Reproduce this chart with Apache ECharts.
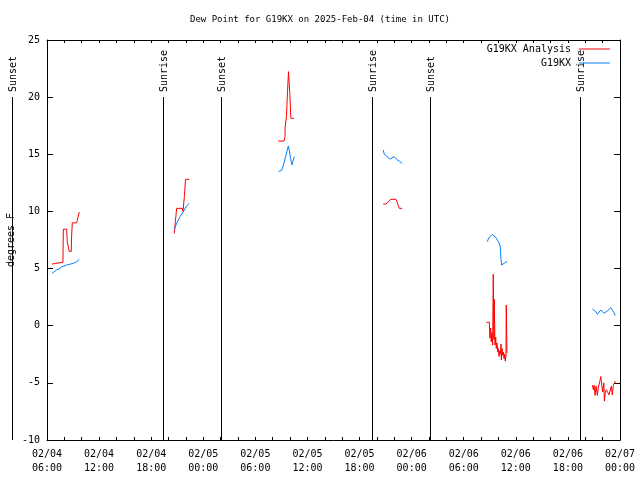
<!DOCTYPE html>
<html><head><meta charset="utf-8">
<script src="https://cdn.jsdelivr.net/npm/echarts@6/dist/echarts.min.js"></script>
<style>html,body{margin:0;padding:0;background:#fff}#c{width:640px;height:480px}</style>
</head><body><div id="c"></div>
<script>
// Segments are separated by null entries
const redTimes = [
 '02/04 06:35','02/04 07:00','02/04 07:50','02/04 07:53','02/04 08:16','02/04 08:20','02/04 08:30','02/04 08:34','02/04 08:48','02/04 08:49','02/04 08:55','02/04 09:25','02/04 09:29','02/04 09:36','02/04 09:43',
 null,
 '02/04 20:40','02/04 20:47','02/04 20:54','02/04 20:56','02/04 21:35','02/04 21:40','02/04 21:49','02/04 21:50','02/04 21:56','02/04 21:57','02/04 22:23',
 null,
 '02/05 08:38','02/05 09:18','02/05 09:25','02/05 09:26','02/05 09:34','02/05 09:35','02/05 09:41','02/05 09:42','02/05 09:48','02/05 09:49','02/05 09:57','02/05 09:58','02/05 10:04','02/05 10:05','02/05 10:27',
 null,
 '02/05 20:44','02/05 21:03','02/05 21:19','02/05 21:35','02/05 22:12','02/05 22:20','02/05 22:26','02/05 22:35','02/05 22:55',
 null,
 '02/06 08:36','02/06 08:48','02/06 08:57','02/06 09:01','02/06 09:06','02/06 09:10','02/06 09:15','02/06 09:20','02/06 09:24','02/06 09:29','02/06 09:31','02/06 09:36','02/06 09:41','02/06 09:45','02/06 09:50','02/06 09:55','02/06 09:59','02/06 10:04','02/06 10:09','02/06 10:13','02/06 10:18','02/06 10:20','02/06 10:25','02/06 10:29','02/06 10:34','02/06 10:39','02/06 10:43','02/06 10:47','02/06 10:52','02/06 10:54','02/06 10:59',
 null,
 '02/06 20:49','02/06 20:56','02/06 21:01','02/06 21:08','02/06 21:15','02/06 21:24','02/06 21:30','02/06 21:40','02/06 21:47','02/06 21:54','02/06 22:01','02/06 22:08','02/06 22:12','02/06 22:19','02/06 22:26','02/06 22:35','02/06 22:44','02/06 22:53','02/06 23:00','02/06 23:07','02/06 23:14','02/06 23:21','02/06 23:28'
];
const redValues = [
 5.4,5.45,5.55,8.45,8.45,7.35,7.35,6.5,6.5,7.6,9.0,9.0,9.2,9.3,9.95,
 null,
 8.08,9.1,9.1,10.27,10.27,10.0,10.0,11.4,11.4,12.8,12.8,
 null,
 16.16,16.16,16.54,17.41,17.41,18.29,18.29,20.48,20.48,22.23,22.23,20.33,20.33,18.15,18.15,
 null,
 10.65,10.65,10.85,11.06,11.06,10.8,10.56,10.27,10.27,
 null,
 0.3,0.25,0.3,-1.1,-0.2,-1.4,-0.6,-1.7,4.5,-1.2,2.3,-1.7,-1.0,-2.0,-1.5,-2.3,-2.0,-2.7,-2.2,-2.5,-1.6,-3.0,-2.0,-2.6,-2.3,-2.9,-2.5,-3.1,-2.6,1.8,-2.4,
 null,
 -5.2,-5.6,-5.2,-6.1,-5.3,-6.1,-5.4,-4.9,-4.45,-5.2,-5.8,-5.0,-6.6,-5.8,-5.6,-5.6,-6.05,-5.9,-5.3,-6.05,-5.2,-5.2,-4.85
];
const blueTimes = [
 '02/04 06:35','02/04 07:07','02/04 07:30','02/04 07:44','02/04 08:16','02/04 09:02','02/04 09:25','02/04 09:43',
 null,
 '02/04 20:40','02/04 20:56','02/04 21:19','02/04 21:42','02/04 22:05','02/04 22:23',
 null,
 '02/05 08:40','02/05 09:02','02/05 09:13','02/05 09:25','02/05 09:37','02/05 09:48','02/05 09:55','02/05 10:04','02/05 10:13','02/05 10:20','02/05 10:29',
 null,
 '02/05 20:44','02/05 20:51','02/05 21:03','02/05 21:19','02/05 21:35','02/05 21:46','02/05 21:58','02/05 22:17','02/05 22:35','02/05 22:55',
 null,
 '02/06 08:43','02/06 08:50','02/06 09:01','02/06 09:17','02/06 09:29','02/06 09:43','02/06 09:59','02/06 10:11','02/06 10:15','02/06 10:17','02/06 10:22','02/06 10:29','02/06 10:38','02/06 10:52','02/06 11:01',
 null,
 '02/06 20:49','02/06 21:01','02/06 21:12','02/06 21:24','02/06 21:35','02/06 21:47','02/06 21:58','02/06 22:10','02/06 22:21','02/06 22:33','02/06 22:44','02/06 22:56','02/06 23:07','02/06 23:17','02/06 23:26'
];
const blueValues = [
 4.59,4.88,5.02,5.17,5.31,5.46,5.6,5.81,
 null,
 8.44,8.96,9.54,9.98,10.48,10.7,
 null,
 13.5,13.6,14.0,14.6,15.2,15.73,15.3,14.6,14.06,14.4,14.8,
 null,
 15.38,15.0,14.85,14.7,14.6,14.75,14.8,14.55,14.4,14.2,
 null,
 7.35,7.59,7.79,8.0,7.88,7.7,7.35,7.06,6.48,5.9,5.31,5.25,5.46,5.55,5.66,
 null,
 1.46,1.52,1.23,1.0,1.08,1.38,1.29,1.08,1.17,1.29,1.46,1.58,1.52,1.17,0.88
];
const sunTimes = ['02/04 01:58','02/04 19:24','02/05 02:00','02/05 19:24','02/06 02:06','02/06 19:23'];
const sunLabels = ['Sunset','Sunrise','Sunset','Sunrise','Sunset','Sunrise'];
const yTicks = [-10,-5,0,5,10,15,20,25];
const xStart = '02/04 06:00', xEnd = '02/07 00:00';

function parseT(s){
  const m = s.match(/(\d+)\/(\d+) (\d+):(\d+)/);
  return Date.UTC(2025, +m[1]-1, +m[2], +m[3], +m[4]);
}
function build(times, vals){
  const out = []; let last = null;
  for (let i=0;i<times.length;i++){
    if (times[i]===null){ out.push([last+60000, null]); continue; }
    last = parseT(times[i]);
    out.push([last, vals[i]]);
  }
  return out;
}
const H = 3600000;
const pad = n => (n<10?'0':'')+n;
function fmtX(v){
  const d = new Date(v);
  return pad(d.getUTCMonth()+1)+'/'+pad(d.getUTCDate())+'\n'+pad(d.getUTCHours())+':'+pad(d.getUTCMinutes());
}
const FONT = 'DejaVu Sans Mono';
const xMin = parseT(xStart), xMax = parseT(xEnd);
const common = {type:'value', min:xMin, max:xMax, interval:6*H,
  axisLine:{onZero:false, lineStyle:{color:'#000',width:1}},
  axisTick:{inside:true,length:3,lineStyle:{color:'#000'}},
  minorTick:{show:true,splitNumber:3,length:3,lineStyle:{color:'#000'}},
  splitLine:{show:false}};
const chart = echarts.init(document.getElementById('c'), null, {renderer:'canvas'});
chart.setOption({
  animation:false,
  backgroundColor:'#fff',
  title:{text:'Dew Point for G19KX on 2025-Feb-04 (time in UTC)', left:'center', top:15, padding:0,
    textStyle:{fontFamily:FONT,fontSize:9,fontWeight:'normal',color:'#000'}},
  legend:{orient:'vertical', right:30, top:44, align:'right', icon:'rect', itemWidth:31, itemHeight:1, itemGap:4,
    padding:0, textStyle:{fontFamily:FONT,fontSize:10,color:'#000',padding:[0,3,0,0]},
    data:['G19KX Analysis','G19KX']},
  grid:{left:47,right:20,top:40,bottom:40,containLabel:false,outerBoundsMode:'none'},
  xAxis:[
    Object.assign({}, common, {position:'bottom',
      axisLabel:{formatter:fmtX, fontFamily:FONT, fontSize:10, color:'#000', margin:7, lineHeight:14}}),
    Object.assign({}, common, {position:'top', axisLabel:{show:false}})
  ],
  yAxis:[
    {type:'value', min:yTicks[0], max:yTicks[yTicks.length-1], interval:5, position:'left',
     name:'degrees F', nameLocation:'middle', nameGap:31, nameRotate:90, nameMoveOverlap:false,
     nameTextStyle:{fontFamily:FONT,fontSize:10,color:'#000'},
     axisLine:{show:true,onZero:false,lineStyle:{color:'#000'}},
     axisTick:{show:true,inside:true,length:6,lineStyle:{color:'#000'}},
     axisLabel:{fontFamily:FONT,fontSize:10,color:'#000',margin:7},
     splitLine:{show:false}},
    {type:'value', min:yTicks[0], max:yTicks[yTicks.length-1], interval:5, position:'right',
     axisLine:{show:true,onZero:false,lineStyle:{color:'#000'}},
     axisTick:{show:true,inside:true,length:6,lineStyle:{color:'#000'}},
     axisLabel:{show:false}, splitLine:{show:false}}
  ],
  series:[
    {type:'custom', name:'sun', clip:false, silent:true, z:1,
     data: sunTimes.map((t,i)=>[parseT(t), i]),
     renderItem:function(params, api){
       const p = api.coord([api.value(0), 25]);
       const x = p[0], top = p[1];
       const bot = api.coord([api.value(0), -10])[1];
       const lbl = sunLabels[api.value(1)];
       return {type:'group', children:[
         {type:'line', shape:{x1:Math.round(x)+0.5, y1:top+57, x2:Math.round(x)+0.5, y2:bot}, style:{stroke:'#000', lineWidth:1}},
         {type:'text', x:Math.round(x)+1, y:top+52, rotation:Math.PI/2,
          style:{text:lbl, fontFamily:FONT, fontSize:10, fill:'#000', align:'left', verticalAlign:'middle'}}
       ]};
     }},
    {type:'line', name:'G19KX Analysis', data:build(redTimes, redValues), showSymbol:false, symbol:'none',
     connectNulls:false, lineStyle:{color:'#ff0000',width:1}, itemStyle:{color:'#ff0000'}, z:3},
    {type:'line', name:'G19KX', data:build(blueTimes, blueValues), showSymbol:false, symbol:'none',
     connectNulls:false, lineStyle:{color:'#0080ff',width:1}, itemStyle:{color:'#0080ff'}, z:3}
  ]
});
</script></body></html>
